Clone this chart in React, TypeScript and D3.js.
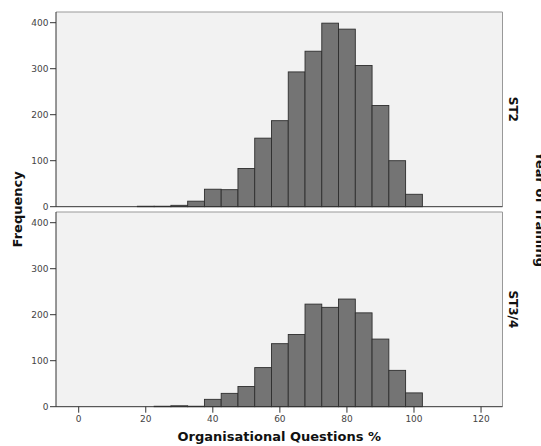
import React from "react";
import * as d3 from "d3";

const binCenters = [20, 25, 30, 35, 40, 45, 50, 55, 60, 65, 70, 75, 80, 85, 90, 95, 100];
const st2Counts = [1, 1, 3, 12, 38, 37, 83, 149, 187, 293, 338, 399, 386, 307, 220, 100, 27];
const st34Counts = [0, 1, 2, 1, 16, 29, 44, 85, 137, 157, 223, 216, 234, 204, 147, 79, 30];
const panelLabels = ["ST2", "ST3/4"];
const xTicks = [0, 20, 40, 60, 80, 100, 120];
const yTicks = [0, 100, 200, 300, 400];
const binWidth = 5;

const W = 541;
const H = 446;
const left = 56;
const right = 502.5;
const panels = [
  { top: 12, bottom: 206.7 },
  { top: 212, bottom: 406.7 },
];

export default function App() {
  const x = d3.scaleLinear().domain([-6.77, 126.4]).range([left, right]);
  const series = [st2Counts, st34Counts];
  const tickFont = "DejaVu Sans, sans-serif";
  return (
    <svg width={W} height={H} style={{ position: "absolute", left: 0, top: 0 }}>
      <rect x={0} y={0} width={W} height={H} fill="#fff" />
      {panels.map((p, pi) => {
        const y = d3.scaleLinear().domain([0, 400]).range([p.bottom, p.bottom - 184]);
        const counts = series[pi];
        return (
          <g key={pi}>
            <rect x={left} y={p.top} width={right - left} height={p.bottom - p.top} fill="#f2f2f2" />
            {binCenters.map((c, i) =>
              counts[i] > 0 ? (
                <rect
                  key={i}
                  x={x(c - binWidth / 2)}
                  y={y(counts[i])}
                  width={x(c + binWidth / 2) - x(c - binWidth / 2)}
                  height={y(0) - y(counts[i])}
                  fill="#747474"
                  stroke="#2e2e2e"
                  strokeWidth={0.9}
                />
              ) : null
            )}
            <line x1={left} x2={right} y1={p.top} y2={p.top} stroke="#999" strokeWidth={1} />
            <line x1={right} x2={right} y1={p.top} y2={p.bottom} stroke="#999" strokeWidth={1} />
            <line x1={left} x2={right} y1={p.bottom} y2={p.bottom} stroke="#333" strokeWidth={1} />
            <line x1={left} x2={left} y1={p.top} y2={p.bottom} stroke="#333" strokeWidth={1} />
            {yTicks.map((t) => (
              <g key={t}>
                <line x1={left - 6} x2={left} y1={y(t)} y2={y(t)} stroke="#333" strokeWidth={1} />
                <text
                  x={left - 7.5}
                  y={y(t)}
                  dy="0.35em"
                  textAnchor="end"
                  fontFamily={tickFont}
                  fontSize={9}
                  fill="#444"
                >
                  {t}
                </text>
              </g>
            ))}
            <text
              transform={`translate(509,${(p.top + p.bottom) / 2}) rotate(90)`}
              textAnchor="middle"
              fontFamily="DejaVu Sans, sans-serif"
              fontWeight="bold"
              fontSize={12}
              fill="#111"
            >
              {panelLabels[pi]}
            </text>
          </g>
        );
      })}
      {xTicks.map((t) => (
        <g key={t}>
          <line x1={x(t)} x2={x(t)} y1={panels[1].bottom} y2={panels[1].bottom + 6} stroke="#333" strokeWidth={1} />
          <text
            x={x(t)}
            y={421.5}
            textAnchor="middle"
            fontFamily={tickFont}
            fontSize={9}
            fill="#444"
          >
            {t}
          </text>
        </g>
      ))}
      <text
        x={(left + right) / 2}
        y={441}
        textAnchor="middle"
        fontFamily="DejaVu Sans, sans-serif"
        fontWeight="bold"
        fontSize={13}
        fill="#111"
      >
        Organisational Questions %
      </text>
      <text
        transform={`translate(22,${(panels[0].top + panels[1].bottom) / 2}) rotate(-90)`}
        textAnchor="middle"
        fontFamily="DejaVu Sans, sans-serif"
        fontWeight="bold"
        fontSize={13}
        fill="#111"
      >
        Frequency
      </text>
      <text
        transform={`translate(536,${(panels[0].top + panels[1].bottom) / 2}) rotate(90)`}
        textAnchor="middle"
        fontFamily="DejaVu Sans, sans-serif"
        fontWeight="bold"
        fontSize={13}
        fill="#111"
      >
        Year of Training
      </text>
    </svg>
  );
}
